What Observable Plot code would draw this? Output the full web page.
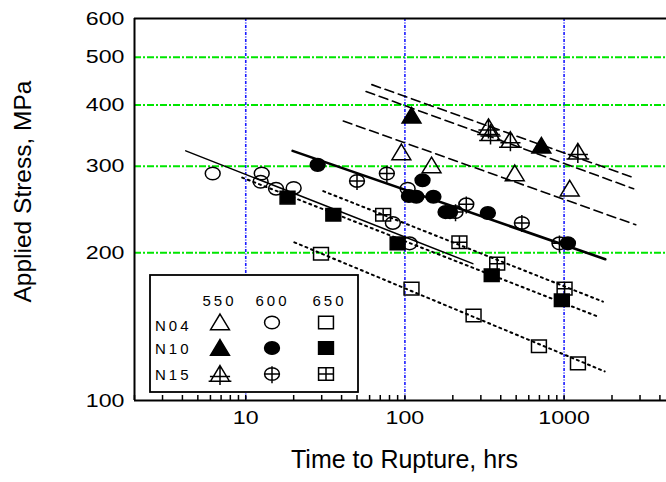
<!DOCTYPE html>
<html>
<head>
<meta charset="utf-8">
<script src="https://cdn.jsdelivr.net/npm/d3@7"></script>
<script src="https://cdn.jsdelivr.net/npm/@observablehq/plot@0.6"></script>
<style>
  html, body { margin: 0; padding: 0; background: white; }
  #wrap { position: relative; width: 666px; height: 482px; overflow: hidden; }
</style>
</head>
<body>
<div id="wrap"></div>
<script>
// ---------- data (time to rupture in hrs, stress in MPa) ----------
// alloy N04
const n04_550_t = [95, 147, 490, 1085];
const n04_550_s = [320, 301, 290, 270];
const n04_600_t = [6.2, 12.6, 12.4, 15.5, 20, 84, 104, 107];
const n04_600_s = [290, 290, 279, 270, 271, 230, 270, 209];
const n04_650_t = [29.7, 110, 270, 695, 1222];
const n04_650_s = [199, 169, 149, 129, 119];
// alloy N10
const n10_550_t = [110, 720];
const n10_550_s = [380, 330];
const n10_600_t = [28.3, 106, 118, 129, 151, 180, 192, 332, 1057];
const n10_600_s = [302, 261, 260, 281, 260, 242, 242, 241, 209];
const n10_650_t = [18.3, 35.5, 90, 351, 968];
const n10_650_s = [259, 239, 209, 180, 160];
// alloy N15
const n15_550_t = [335, 345, 460, 1220];
const n15_550_s = [360, 350, 339, 321];
const n15_600_t = [50, 77, 208, 243, 543, 935];
const n15_600_s = [280, 290, 242, 251, 230, 209];
const n15_650_t = [73, 220, 380, 1007];
const n15_650_s = [239, 210, 190, 169];

// fitted lines (end points)
const fitSolidThin_t = [4.2, 267],   fitSolidThin_s = [322.5, 190];
const fitSolidThick_t = [19.7, 1815], fitSolidThick_s = [322.5, 194];
const fitDotA_t = [9.5, 1650],  fitDotA_s = [284.5, 148];
const fitDotB_t = [30.7, 1754], fitDotB_s = [267, 159];
const fitDotC_t = [20.2, 1799], fitDotC_s = [210, 114.6];
const fitDash1_t = [41, 2820],  fitDash1_s = [371, 228];
const fitDash2_t = [62, 2685],  fitDash2_s = [440, 285];
const fitDash3_t = [57, 2735],  fitDash3_s = [426, 270];

// axes
const xTickLabels = [10, 100, 1000];
const xMinorTicks = [2,3,4,5,6,7,8,9,10,20,30,40,50,60,70,80,90,100,200,300,400,500,600,700,800,900,1000,2000,3000,4000];
const yTickLabels = [100, 200, 300, 400, 500, 600];
const yGrid = [200, 300, 400, 500];
const xGrid = [10, 100, 1000];
const legendTemps = ["550", "600", "650"];
const legendAlloys = ["N04", "N10", "N15"];

// ---------- symbols ----------
const K = 1.18;
function ellipse(p, rx, ry) {
  const c = 0.5523;
  p.moveTo(rx, 0);
  p.bezierCurveTo(rx, ry * c, rx * c, ry, 0, ry);
  p.bezierCurveTo(-rx * c, ry, -rx, ry * c, -rx, 0);
  p.bezierCurveTo(-rx, -ry * c, -rx * c, -ry, 0, -ry);
  p.bezierCurveTo(rx * c, -ry, rx, -ry * c, rx, 0);
  p.closePath();
}
function tri(p, r) {
  p.moveTo(0, -1.3 * r); p.lineTo(1.45 * r, 1.1 * r); p.lineTo(-1.45 * r, 1.1 * r); p.closePath();
}
const mk = (fn) => ({ draw(p, size) { fn(p, Math.sqrt(size / Math.PI)); } });
const symCircle = mk((p, r) => ellipse(p, r * K, r));
const symOPlus = mk((p, r) => {
  ellipse(p, r * K, r);
  p.moveTo(0, -1.25 * r); p.lineTo(0, 1.45 * r);
  p.moveTo(-r * K, 0); p.lineTo(r * K, 0);
});
const symSquare = mk((p, r) => p.rect(-r * K, -r, 2 * r * K, 2 * r));
const symSqPlus = mk((p, r) => {
  p.rect(-r * K, -r, 2 * r * K, 2 * r);
  p.moveTo(0, -r); p.lineTo(0, r);
  p.moveTo(-r * K, 0); p.lineTo(r * K, 0);
});
const symTri = mk((p, r) => tri(p, r));
const symTriPlus = mk((p, r) => {
  tri(p, r);
  p.moveTo(0, -1.3 * r); p.lineTo(0, 1.7 * r);
  p.moveTo(-1.55 * r, 0.4 * r); p.lineTo(1.55 * r, 0.4 * r);
  p.moveTo(-1.75 * r, 1.1 * r); p.lineTo(1.75 * r, 1.1 * r);
});

const pts = (t, s) => t.map((v, i) => ({ t: v, s: s[i] }));

const series = [
  { d: pts(n04_550_t, n04_550_s), sym: symTri, fill: "none", r: 6.5 },
  { d: pts(n10_550_t, n10_550_s), sym: symTri, fill: "black", r: 6.5 },
  { d: pts(n15_550_t, n15_550_s), sym: symTriPlus, fill: "none", r: 6.5 },
  { d: pts(n04_600_t, n04_600_s), sym: symCircle, fill: "none", r: 6.3 },
  { d: pts(n15_600_t, n15_600_s), sym: symOPlus, fill: "none", r: 6.3 },
  { d: pts(n10_600_t, n10_600_s), sym: symCircle, fill: "black", r: 6.3 },
  { d: pts(n04_650_t, n04_650_s), sym: symSquare, fill: "none", r: 6.3 },
  { d: pts(n15_650_t, n15_650_s), sym: symSqPlus, fill: "none", r: 6.3 },
  { d: pts(n10_650_t, n10_650_s), sym: symSquare, fill: "black", r: 6.3 }
];

const fits = [
  { d: pts(fitSolidThin_t, fitSolidThin_s), w: 1.5, dash: null },
  { d: pts(fitSolidThick_t, fitSolidThick_s), w: 2.6, dash: null },
  { d: pts(fitDotA_t, fitDotA_s), w: 2, dash: "2,4" },
  { d: pts(fitDotB_t, fitDotB_s), w: 2, dash: "2,4" },
  { d: pts(fitDotC_t, fitDotC_s), w: 2, dash: "2,4" },
  { d: pts(fitDash1_t, fitDash1_s), w: 1.6, dash: "9,5" },
  { d: pts(fitDash2_t, fitDash2_s), w: 1.6, dash: "9,5" },
  { d: pts(fitDash3_t, fitDash3_s), w: 1.6, dash: "9,5" }
];

const FONT = "'Liberation Sans', Arial, sans-serif";

const chart = Plot.plot({
  width: 666,
  height: 482,
  marginLeft: 134,
  marginRight: 0,
  marginTop: 18,
  marginBottom: 82,
  style: { fontFamily: FONT, fontSize: "19px", background: "white", color: "black" },
  x: { type: "log", domain: [2, 4400], ticks: xTickLabels, tickFormat: d => String(d), tickSize: 0, tickPadding: 10, label: null },
  y: { type: "log", domain: [100, 600], ticks: yTickLabels, tickFormat: d => String(d), tickSize: 0, tickPadding: 10, label: null },
  marks: [
    Plot.ruleY(yGrid, { stroke: "#00e600", strokeWidth: 2, strokeDasharray: "7,2,2,2" }),
    Plot.ruleX(xGrid, { stroke: "#1a1aff", strokeWidth: 1.6, strokeDasharray: "3,1.5,1,1.5" }),
    Plot.ruleX([2], { stroke: "black", strokeWidth: 2 }),
    Plot.ruleY([100, 600], { stroke: "black", strokeWidth: 2 }),
    Plot.tickX(xMinorTicks, { stroke: "black", strokeWidth: 1.5, insetTop: 377 }),
    ...fits.map(f => Plot.line(f.d, { x: "t", y: "s", stroke: "black", strokeWidth: f.w, strokeDasharray: f.dash })),
    ...series.map(s => Plot.dot(s.d, { x: "t", y: "s", symbol: s.sym, r: s.r, fill: s.fill, stroke: "black", strokeWidth: 1.5 })),
    Plot.text(["Time to Rupture, hrs"], { text: d => d, frameAnchor: "bottom", textAnchor: "middle", dx: 4, dy: 67, fontSize: 25, fill: "black" }),
    Plot.text(["Applied Stress, MPa"], { text: d => d, frameAnchor: "left", textAnchor: "middle", rotate: -90, dx: -111, dy: -18, fontSize: 24.5, fill: "black" })
  ]
});

const wrap = document.getElementById("wrap");
wrap.appendChild(chart);

// widen tick labels horizontally like the reference lettering
function stretch(nodes, k) {
  nodes.forEach(el => {
    const b = el.getBBox();
    const a = getComputedStyle(el).textAnchor;
    const ax = a === "end" ? b.x + b.width : a === "middle" ? b.x + b.width / 2 : b.x;
    const old = el.getAttribute("transform") || "";
    el.setAttribute("transform", `${old} translate(${ax},0) scale(${k},1) translate(${-ax},0)`);
  });
}
stretch(Array.from(chart.querySelectorAll('g[aria-label$="tick label"] text')), 1.22);

// ---------- legend box ----------
const LW = 210, LH = 119;
const leg = d3.create("svg")
  .attr("width", LW).attr("height", LH)
  .style("position", "absolute").style("left", "149px").style("top", "274px")
  .style("font-family", FONT);
leg.append("rect").attr("x", 1).attr("y", 1).attr("width", LW - 2).attr("height", LH - 2)
  .attr("fill", "white").attr("stroke", "black").attr("stroke-width", 1.8);
const colX = [69, 122, 179];
const symX = [71, 123, 177];
const rowY = [57, 80, 106];
const symY = [48.5, 74, 100];
legendTemps.forEach((t, i) => leg.append("text").attr("x", colX[i] + 1.5).attr("y", 31.5)
  .attr("text-anchor", "middle").attr("font-size", 15).attr("letter-spacing", 3).text(t));
legendAlloys.forEach((a, j) => leg.append("text").attr("x", 6).attr("y", rowY[j])
  .attr("font-size", 15).attr("letter-spacing", 3).text(a));
const legSyms = [
  [series[0], series[3], series[6]],
  [series[1], series[5], series[8]],
  [series[2], series[4], series[7]]
];
legSyms.forEach((row, j) => row.forEach((s, i) => {
  const p = d3.path();
  s.sym.draw(p, s.r * s.r * Math.PI);
  leg.append("path").attr("d", p.toString())
    .attr("transform", `translate(${symX[i]},${symY[j]})`)
    .attr("fill", s.fill).attr("stroke", "black").attr("stroke-width", 1.5);
}));
wrap.appendChild(leg.node());
</script>
</body>
</html>
